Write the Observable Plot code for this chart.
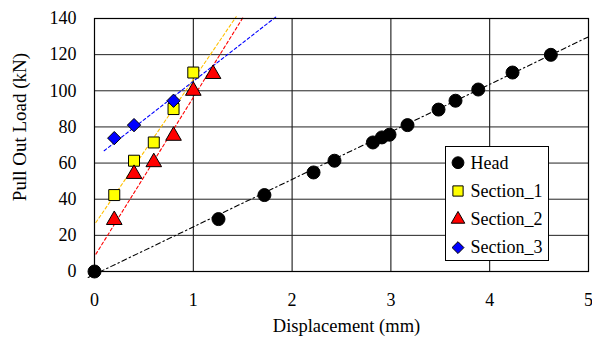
<!DOCTYPE html>
<html>
<head>
<meta charset="utf-8">
<script src="https://cdn.jsdelivr.net/npm/d3@7"></script>
<script src="https://cdn.jsdelivr.net/npm/@observablehq/plot@0.6"></script>
<style>
html, body { margin: 0; padding: 0; background: #fff; }
#wrap { position: relative; width: 592px; height: 345px; font-family: 'Liberation Serif'; }
#legend { position: absolute; left: 445px; top: 146px; }
</style>
</head>
<body>
<div id="wrap"></div>
<script>
// ---- data ----
const headX = [0, 1.255, 1.72, 2.217, 2.429, 2.818, 2.909, 2.986, 3.168, 3.482, 3.654, 3.884, 4.231, 4.619];
const headY = [0, 29, 42.3, 54.8, 61.3, 71.4, 74.2, 75.7, 81.0, 89.6, 94.5, 100.7, 110.1, 119.9];

const sec1X = [0.2, 0.4, 0.6, 0.8, 1.0];
const sec1Y = [42.3, 61.3, 71.4, 89.9, 110.1];

const sec2X = [0.2, 0.4, 0.6, 0.8, 1.0, 1.2];
const sec2Y = [28.5, 54, 60.5, 75.1, 100, 109.3];

const sec3X = [0.2, 0.4, 0.8];
const sec3Y = [73.8, 81.0, 94.5];

// trend lines (end points)
const headTrendX = [-0.064, 5.02];
const headTrendY = [-3.3, 130.4];
const sec1TrendX = [0.014, 1.434];
const sec1TrendY = [27.1, 141];
const sec2TrendX = [0.014, 1.508];
const sec2TrendY = [9.6, 141];
const sec3TrendX = [0.098, 1.839];
const sec3TrendY = [66.8, 141];

const xTicks = [0, 1, 2, 3, 4, 5];
const yTicks = [0, 20, 40, 60, 80, 100, 120, 140];
const xGrid = [1, 2, 3, 4];
const yGrid = [20, 40, 60, 80, 100, 120];

const seriesNames = ["Head", "Section_1", "Section_2", "Section_3"];
const seriesFill = ["#000000", "#ffff00", "#ff0000", "#0000ff"];
const seriesSymbol = ["circle", "square", "triangle", "diamond2"];
const trendStroke = ["#000000", "#ffc000", "#ff0000", "#0000ff"];

const xTitle = "Displacement (mm)";
const yTitle = "Pull Out Load (kN)";

// ---- build tables ----
const pts = (xs, ys) => xs.map((x, i) => ({x, y: ys[i]}));
const seriesData = [pts(headX, headY), pts(sec1X, sec1Y), pts(sec2X, sec2Y), pts(sec3X, sec3Y)];
const trendData = [pts(headTrendX, headTrendY), pts(sec1TrendX, sec1TrendY), pts(sec2TrendX, sec2TrendY), pts(sec3TrendX, sec3TrendY)];
const dotR = [6.5, 6.2, 5.8, 6.0];
const dashes = ["5,3,1.5,3", "3,2.5", "3,2.5", "3,2.5"];

const font = "'Liberation Serif'";

const chart = Plot.plot({
  width: 592,
  height: 345,
  marginLeft: 94,
  marginRight: 4,
  marginTop: 18,
  marginBottom: 74,
  style: {fontFamily: font, fontSize: "18px", color: "#000", background: "#fff", overflow: "visible"},
  x: {domain: [0, 5], ticks: xTicks, tickFormat: d3.format("d"), tickSize: 0, tickPadding: 22, label: null},
  y: {domain: [0, 140], ticks: yTicks, tickFormat: d3.format("d"), tickSize: 0, tickPadding: 18, label: null},
  marks: [
    Plot.ruleX(xGrid, {stroke: "#000", strokeWidth: 1}),
    Plot.ruleY(yGrid, {stroke: "#222", strokeWidth: 1}),
    ...trendData.map((d, i) => Plot.line(d, {x: "x", y: "y", stroke: trendStroke[i], strokeWidth: 1.1, strokeDasharray: dashes[i], clip: false})),
    Plot.frame({stroke: "#000", strokeWidth: 1.2}),
    ...seriesData.map((d, i) => Plot.dot(d, {x: "x", y: "y", symbol: seriesSymbol[i], r: dotR[i], fill: seriesFill[i], stroke: "#000", strokeWidth: 1})),
    Plot.text([xTitle], {frameAnchor: "bottom", textAnchor: "middle", dy: 60, dx: 5, fontSize: 18.5, fill: "#000"}),
    Plot.text([yTitle], {frameAnchor: "left", textAnchor: "middle", rotate: -90, dx: -74.5, dy: -18, fontSize: 19, fill: "#000"})
  ]
});
document.getElementById("wrap").appendChild(chart);

// ---- legend ----
const lw = 104, lh = 115;
const leg = d3.create("svg").attr("id", "legend").attr("width", lw).attr("height", lh);
leg.append("rect").attr("x", 0.5).attr("y", 0.5).attr("width", lw - 1).attr("height", lh - 1)
  .attr("fill", "#fff").attr("stroke", "#000").attr("stroke-width", 1);
const symMap = {circle: d3.symbolCircle, square: d3.symbolSquare, triangle: d3.symbolTriangle, diamond2: d3.symbolDiamond2};
const legSize = [110, 105, 80, 90];
seriesNames.forEach((name, i) => {
  const cy = 16.7 + 28.3 * i;
  leg.append("path").attr("transform", `translate(13,${cy})`)
    .attr("d", d3.symbol(symMap[seriesSymbol[i]], legSize[i])())
    .attr("fill", seriesFill[i]).attr("stroke", "#000").attr("stroke-width", 1);
  leg.append("text").attr("x", 25.5).attr("y", cy + 5.8).attr("fill", "#000")
    .attr("font-size", 18).text(name);
});
document.getElementById("wrap").appendChild(leg.node());

document.querySelectorAll("#wrap text").forEach(t => {
  t.setAttribute("font-family", "Liberation Serif");
  t.style.setProperty("font-family", "'Liberation Serif'", "important");
});
</script>
</body>
</html>
